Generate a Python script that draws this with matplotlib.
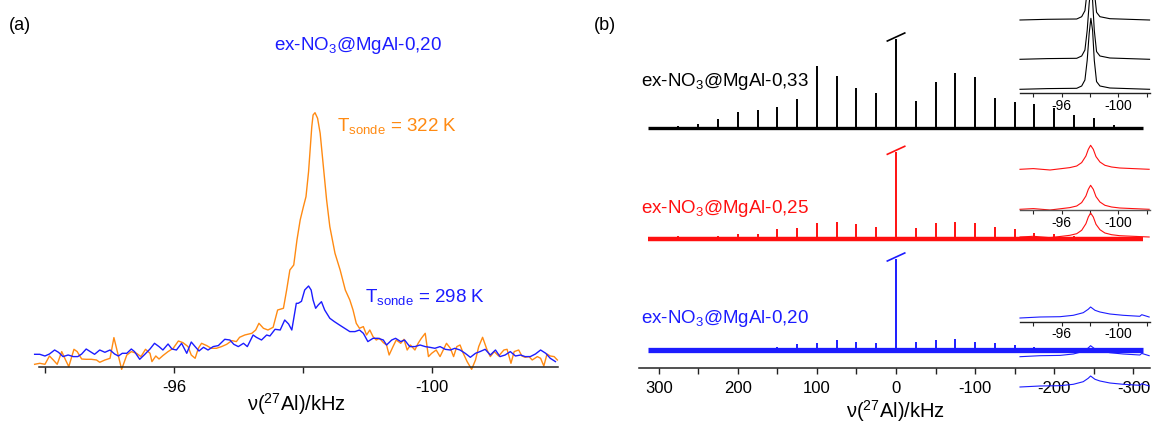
import numpy as np
import matplotlib
matplotlib.use("Agg")
import matplotlib.pyplot as plt

plt.rcParams['font.family'] = ['Liberation Sans', 'DejaVu Sans']
plt.rcParams['mathtext.default'] = 'regular'
plt.rcParams['axes.unicode_minus'] = False

# ---- (a) 27Al spectra, two probe temperatures ----
orange_khz = [-93.84, -93.92, -94.00, -94.07, -94.13, -94.19, -94.26, -94.32, -94.37, -94.45,
              -94.50, -94.57, -94.64, -94.72, -94.80, -94.85, -94.93, -95.01, -95.07, -95.13,
              -95.19, -95.27, -95.34, -95.42, -95.49, -95.56, -95.63, -95.66, -95.72, -95.77,
              -95.83, -95.91, -95.99, -96.07, -96.14, -96.22, -96.27, -96.33, -96.38, -96.43,
              -96.51, -96.58, -96.66, -96.74, -96.82, -96.90, -96.97, -97.02, -97.10, -97.21,
              -97.27, -97.32, -97.39, -97.46, -97.54, -97.61, -97.70, -97.75, -97.80, -97.86,
              -97.91, -97.96, -98.01, -98.05, -98.09, -98.14, -98.16, -98.19, -98.23, -98.27,
              -98.32, -98.37, -98.42, -98.50, -98.58, -98.66, -98.73, -98.78, -98.83, -98.88,
              -98.94, -98.99, -99.04, -99.09, -99.14, -99.19, -99.25, -99.30, -99.34, -99.40,
              -99.45, -99.52, -99.57, -99.62, -99.67, -99.74, -99.79, -99.84, -99.90, -99.95,
              -100.00, -100.07, -100.13, -100.18, -100.23, -100.29, -100.34, -100.39, -100.44, -100.49,
              -100.55, -100.62, -100.68, -100.73, -100.79, -100.86, -100.91, -100.97, -101.04, -101.12,
              -101.17, -101.23, -101.28, -101.35, -101.40, -101.45, -101.51, -101.56, -101.64, -101.69,
              -101.74, -101.79, -101.84, -101.90, -101.95]
orange_int = [3.0, 4.0, 3.0, 11.3, 7.3, 3.0, 15.7, 7.3, 0.7, 18.0,
              15.7, 8.3, 8.0, 8.0, 7.3, 5.0, 7.3, 9.0, 29.7, 14.0,
              -2.0, 12.3, 15.7, 14.0, 10.7, 18.0, 14.0, 5.7, 11.3, 8.3,
              11.7, 15.7, 19.0, 26.3, 24.7, 20.7, 12.3, 9.0, 19.0, 24.0,
              21.7, 19.0, 19.0, 20.7, 23.0, 26.7, 25.7, 30.0, 32.3, 34.0,
              37.3, 44.0, 39.0, 37.3, 40.0, 57.3, 59.0, 77.3, 97.3, 102.3,
              127.3, 147.3, 160.6, 170.6, 195.6, 240.6, 252.3, 254.6, 249.0, 234.0,
              200.6, 167.3, 140.6, 114.0, 97.3, 77.3, 67.3, 57.3, 44.0, 39.0,
              40.7, 32.3, 37.3, 30.7, 27.3, 29.0, 24.7, 22.3, 12.3, 20.7,
              27.3, 24.0, 28.0, 17.3, 22.3, 17.3, 24.0, 29.0, 34.0, 10.7,
              14.0, 17.3, 10.7, 17.3, 24.0, 19.0, 10.7, 20.7, 22.3, 14.0,
              5.7, -2.0, 7.3, 20.7, 30.0, 17.3, 10.7, 15.7, 11.3, 17.3,
              18.0, 4.0, 15.7, 17.3, 11.3, 10.0, 10.7, 7.3, 10.7, 9.0,
              1.3, 13.3, 11.3, 10.7, 7.3]

blue_khz = [-93.84, -93.92, -94.00, -94.07, -94.15, -94.21, -94.28, -94.36, -94.44, -94.51,
            -94.57, -94.64, -94.72, -94.77, -94.85, -94.93, -95.01, -95.08, -95.14, -95.20,
            -95.27, -95.34, -95.39, -95.47, -95.55, -95.63, -95.70, -95.77, -95.83, -95.91,
            -95.97, -96.04, -96.12, -96.20, -96.27, -96.33, -96.39, -96.46, -96.53, -96.61,
            -96.69, -96.79, -96.87, -96.93, -97.00, -97.08, -97.14, -97.23, -97.28, -97.36,
            -97.44, -97.49, -97.57, -97.65, -97.72, -97.78, -97.83, -97.90, -97.93, -97.98,
            -98.03, -98.09, -98.13, -98.16, -98.20, -98.24, -98.29, -98.34, -98.42, -98.49,
            -98.57, -98.65, -98.73, -98.81, -98.88, -98.94, -99.01, -99.09, -99.17, -99.25,
            -99.30, -99.38, -99.44, -99.52, -99.58, -99.66, -99.74, -99.82, -99.90, -99.97,
            -100.05, -100.13, -100.21, -100.29, -100.36, -100.44, -100.52, -100.60, -100.68, -100.75,
            -100.83, -100.91, -100.99, -101.06, -101.14, -101.22, -101.30, -101.38, -101.45, -101.53,
            -101.61, -101.69, -101.77, -101.84, -101.92]
blue_int = [13.0, 13.0, 11.3, 13.3, 17.3, 15.0, 10.7, 12.3, 10.7, 10.7,
            13.3, 18.3, 15.0, 13.0, 17.3, 15.0, 17.3, 13.3, 11.3, 14.0,
            14.0, 18.3, 15.7, 8.0, 13.0, 18.3, 24.0, 20.7, 17.3, 23.3,
            18.3, 17.3, 24.0, 14.0, 25.3, 20.7, 16.3, 20.0, 17.3, 20.7,
            21.7, 28.0, 27.3, 23.0, 20.7, 24.0, 20.7, 32.3, 30.0, 27.3,
            32.3, 31.3, 38.0, 37.3, 47.3, 43.3, 37.3, 64.0, 64.0, 66.0,
            77.3, 81.3, 77.3, 67.3, 59.0, 62.3, 65.6, 57.3, 49.0, 45.7,
            42.3, 39.0, 35.7, 35.7, 37.3, 34.0, 25.7, 29.0, 29.0, 27.3,
            22.3, 27.3, 29.0, 25.7, 27.3, 20.7, 20.7, 22.3, 20.7, 20.0,
            19.0, 20.7, 18.0, 17.3, 19.0, 17.3, 14.0, 10.0, 14.0, 15.7,
            18.0, 12.3, 17.3, 10.7, 12.3, 15.7, 11.3, 12.3, 10.7, 10.7,
            13.3, 17.3, 14.0, 9.0, 5.7]

# ---- (b) spinning sideband patterns (centre peak truncated) ----
sb_pos = [300, 275, 250, 225, 200, 175, 150, 125, 100, 75, 50, 25, 0,
          -25, -50, -75, -100, -125, -150, -175, -200, -225, -250, -275]
black_sb = [1.7, 2.3, 4.3, 9.7, 16, 18.3, 21, 29, 62.3, 52.7, 40, 35, 89.3,
            27.7, 46, 55.3, 51.3, 30.3, 26, 24, 20, 13.3, 10.3, 3]
red_sb = [2, 3, 2.7, 3, 5, 5, 10, 11, 16.7, 17.7, 15.3, 12.7, 87,
          11.7, 16.7, 17.7, 16.7, 12.7, 10.3, 6.7, 5, 3.3, 2, 1]
blue_sb = [1, 1, 1.5, 2, 2, 2, 3, 6, 7.3, 10, 8.3, 7.3, 91,
           8.3, 10, 10.7, 8.3, 6.7, 5, 3, 2, 2, 1.5, 1]
spec_range = [314, -312]

# insets: central line, kHz
blk_in_khz = [-93.06, -95.0, -97.06, -97.41, -97.64, -97.80, -97.94, -98.06, -98.18, -98.30, -98.46, -98.70, -99.40, -102.2]
blk_in_int = [0, 0.7, 1.0, 3.3, 9.3, 29, 56, 71, 59, 29, 7.7, 3.3, 1.3, 0]
red_in_khz = [-93.06, -94.0, -95.18, -96.0, -96.58, -97.06, -97.41, -97.71, -97.88, -98.04,
              -98.23, -98.42, -98.70, -99.05, -99.52, -100.1, -101.04, -102.17]
red_in_int = [0, 0.7, -0.7, 0.7, 1.7, 3.3, 6.7, 13.3, 20, 24, 20, 12.7, 7.3, 4, 2.3, 1.3, 0.7, 0]
blu_in_khz = [-93.06, -94.47, -95.88, -96.82, -97.52, -97.87, -98.04, -98.35, -98.70, -99.40, -100.34, -101.51, -101.65, -102.17]
blu_in_int = [0, 1, 1.3, 2.7, 5.3, 8.7, 11, 7.7, 6, 4, 2.7, 1.7, 3.3, 1]

ORANGE = '#ff8a12'
BLUE = '#1c1cff'
RED = '#ff1010'
AXC = '#222222'
XLABEL = r'ν($^{27}$Al)/kHz'

W, H = 1153, 425
fig = plt.figure(figsize=(W / 100, H / 100), dpi=100)


def rect(x0, x1, ybot, ytop):
    return [x0 / W, 1 - ybot / H, (x1 - x0) / W, (ybot - ytop) / H]


def bare(ax):
    for s in ['left', 'right', 'top']:
        ax.spines[s].set_visible(False)
    ax.set_yticks([])
    ax.patch.set_visible(False)


# (a)
ax1 = fig.add_axes(rect(38.5, 558, 367.3, 100))
bare(ax1)
ax1.plot(orange_khz, orange_int, color=ORANGE, lw=1.0, clip_on=False)
ax1.plot(blue_khz, blue_int, color=BLUE, lw=1.0, clip_on=False)
ax1.set_xlim(-93.9, -101.96)
ax1.set_ylim(0, 267.3)
ax1.set_xticks([-96, -100])
ax1.set_xticks([-94, -98], minor=True)
ax1.spines['bottom'].set_color(AXC)
ax1.spines['bottom'].set_linewidth(1.1)
ax1.tick_params(axis='x', which='both', length=4, width=1, colors=AXC, labelsize=12, pad=5, labelcolor='black')

# (b)
ax2 = fig.add_axes(rect(638.6, 1150, 368.3, 0))
bare(ax2)
offsets = {'k': 240.0, 'r': 129.0, 'b': 18.3}
for col, sb, lw_base, key in [('black', black_sb, 2.4, 'k'), (RED, red_sb, 3.2, 'r'), (BLUE, blue_sb, 3.8, 'b')]:
    off = offsets[key]
    ax2.plot(spec_range, [off, off], color=col, lw=lw_base, solid_capstyle='butt')
    ax2.vlines(sb_pos, off, [off + v for v in sb], color=col, lw=1.4)
    top = off + sb[sb_pos.index(0)]
    ax2.plot([11, -11], [top - 2, top + 6], color=col, lw=1.2)
ax2.set_xlim(325.4, -321)
ax2.set_ylim(0, 368.3)
ax2.set_xticks([300, 200, 100, 0, -100, -200, -300])
ax2.set_xticks([250, 150, 50, -50, -150, -250], minor=True)
ax2.spines['bottom'].set_color(AXC)
ax2.spines['bottom'].set_linewidth(1.1)
ax2.tick_params(axis='x', which='both', length=4, width=1, colors=AXC, labelsize=12, pad=5, labelcolor='black')

# insets (stacked copies, as in the original figure)
insets = [
    ('black', blk_in_khz, blk_in_int, (93.3, 0), [4, 34, 73.3]),
    (RED, red_in_khz, red_in_int, (210, 120), [40.7, 0.7, -27]),
    (BLUE, blu_in_khz, blu_in_int, (321.7, 280), [3.7, -35, -65.3]),
]
for col, xs, ys, (yb, yt), offs in insets:
    axi = fig.add_axes(rect(1020, 1150, yb, yt))
    bare(axi)
    for o in offs:
        axi.plot(xs, [o + v for v in ys], color=col, lw=0.8, clip_on=False)
    axi.set_xlim(-93.06, -102.23)
    axi.set_ylim(0, yb - yt)
    axi.set_xticks([-96, -100])
    axi.set_xticks([-94, -98, -102], minor=True)
    axi.spines['bottom'].set_color('#555555' if col == RED else AXC)
    axi.spines['bottom'].set_linewidth(1.0)
    axi.tick_params(axis='x', which='both', length=3, width=0.8, colors=AXC, labelsize=10, pad=1, labelcolor='black')

# axis titles placed directly (right one sits close to the bottom edge)
fig.text(296.5 / W, 1 - 411 / H, XLABEL, fontsize=14.5, ha='center', va='baseline')
fig.text(896 / W, 1 - 418 / H, XLABEL, fontsize=14.5, ha='center', va='baseline')

# annotations
fig.text(9 / W, 1 - 30 / H, '(a)', fontsize=13, va='baseline')
fig.text(594 / W, 1 - 30 / H, '(b)', fontsize=13, va='baseline')
fig.text(274 / W, 1 - 50 / H, r'ex-NO$_3$@MgAl-0,20', fontsize=13.5, color=BLUE, va='baseline')
fig.text(336.7 / W, 1 - 130.7 / H, r'T$_{sonde}$ = 322 K', fontsize=13.5, color=ORANGE, va='baseline')
fig.text(365 / W, 1 - 301.7 / H, r'T$_{sonde}$ = 298 K', fontsize=13.5, color=BLUE, va='baseline')
fig.text(641 / W, 1 - 86 / H, r'ex-NO$_3$@MgAl-0,33', fontsize=13.5, color='black', va='baseline')
fig.text(641 / W, 1 - 213 / H, r'ex-NO$_3$@MgAl-0,25', fontsize=13.5, color=RED, va='baseline')
fig.text(641 / W, 1 - 323 / H, r'ex-NO$_3$@MgAl-0,20', fontsize=13.5, color=BLUE, va='baseline')

fig.savefig('out.png', dpi=100)
